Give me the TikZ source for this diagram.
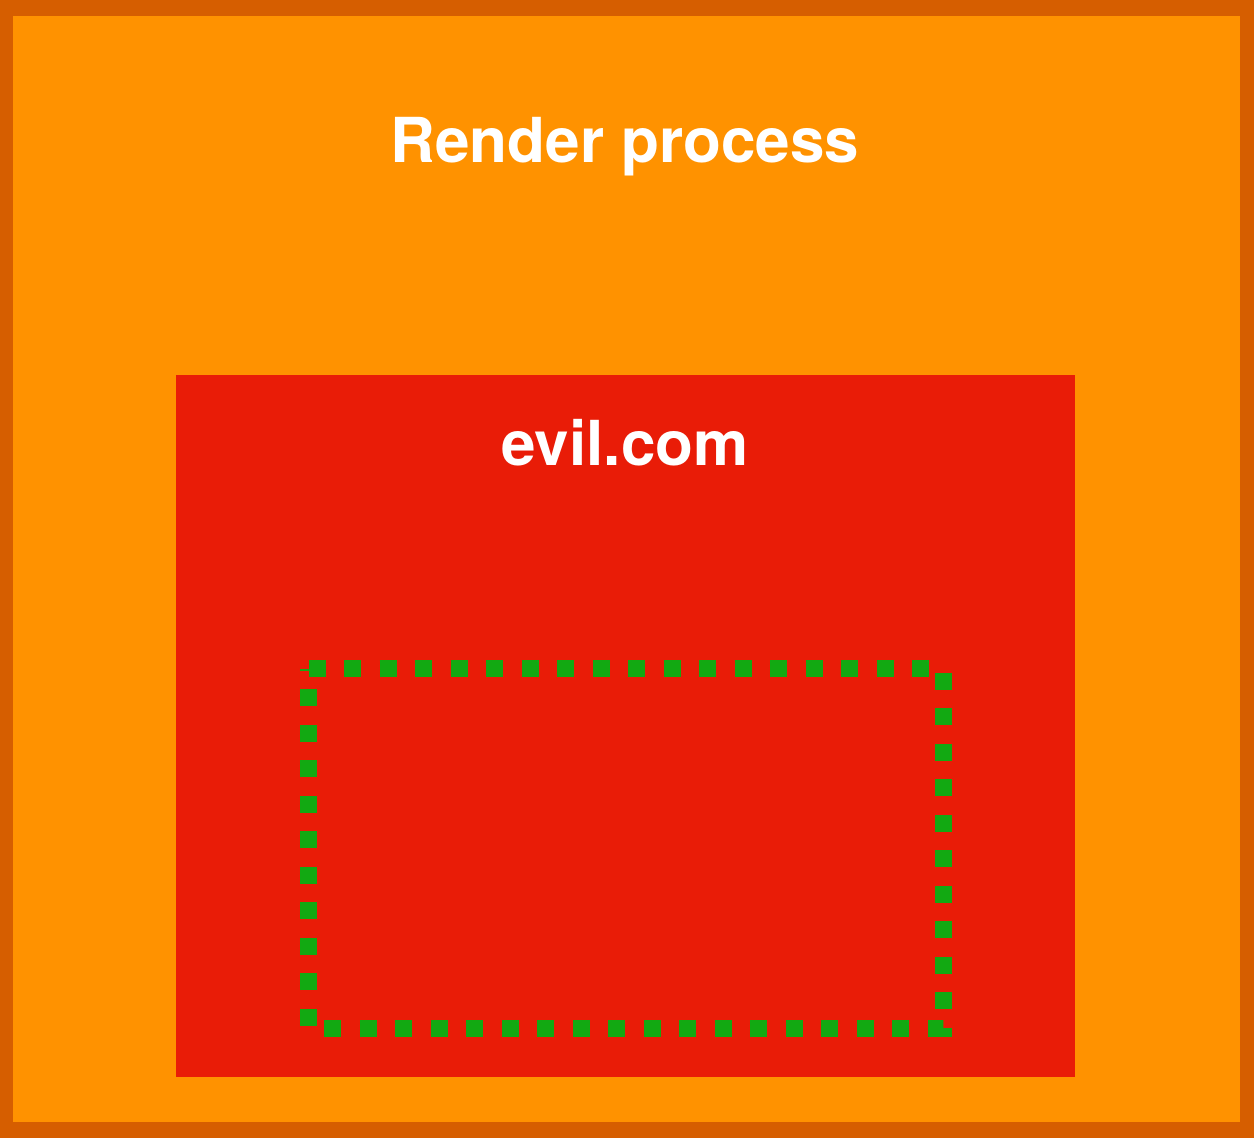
\documentclass[tikz,border=0pt]{standalone}
\usepackage{fontspec}
\setmainfont{TeX Gyre Heros}
\definecolor{outerdark}{HTML}{D65E00}
\definecolor{orangefill}{HTML}{FF9200}
\definecolor{redfill}{HTML}{E91C07}
\definecolor{greendot}{HTML}{12A912}
\begin{document}
\begin{tikzpicture}[x=1pt,y=-1pt,
  titletext/.style={text=white,font=\fontsize{62}{62}\selectfont\bfseries,inner sep=0pt,anchor=base},
  dotframe/.style={draw=greendot,line width=17pt,dash pattern=on 17pt off 18.5pt}]
\useasboundingbox (0,0) rectangle (1254,1138);
\fill[outerdark] (0,0) rectangle (1254,1138);
\fill[orangefill] (13,16) rectangle (1240,1122);
\node[titletext] (title) at (625,162) {Render process};
\fill[redfill] (176,375) rectangle (1075,1077);
\node[titletext] (site) at (625,465) {evil.com};
\draw[dotframe] (308.5,668.5) -- (943.5,668.5) -- (943.5,1028.5) -- (308.5,1028.5) -- cycle;
\end{tikzpicture}
\end{document}
